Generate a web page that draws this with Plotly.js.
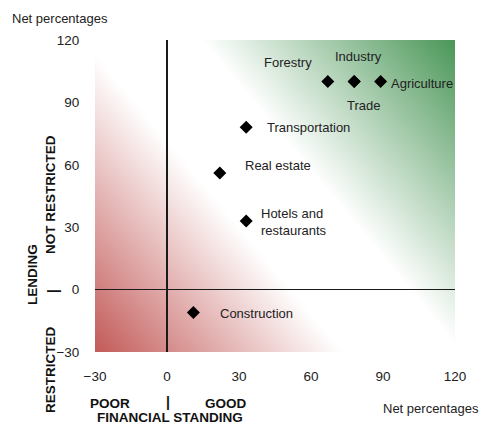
<!DOCTYPE html>
<html>
<head>
<meta charset="utf-8">
<script src="https://cdn.plot.ly/plotly-3.0.1.min.js"></script>
<style>
  html, body { margin: 0; padding: 0; background: #fff; }
  #chart { width: 493px; height: 425px; }
</style>
</head>
<body>
<div id="chart"></div>
<script>
// Sector positions: financial standing (x) vs. lending conditions (y), net percentages
const sectors = ['Forestry', 'Industry', 'Trade', 'Agriculture', 'Transportation',
                 'Real estate', 'Hotels and<br>restaurants', 'Construction'];
const financialStanding = [67, 78, 78, 89, 33, 22, 33, 11];
const lending = [100, 100, 100, 100, 78, 56, 33, -11];

const xTicks = [-30, 0, 30, 60, 90, 120];
const yTicks = [-30, 0, 30, 60, 90, 120];

// Label placement next to each marker (pixels)
const labelStyle = [
  { anchor: 'center', dx: -40, dy: 19 },
  { anchor: 'center', dx: 4, dy: 25 },
  { anchor: 'center', dx: 9, dy: -24 },
  { anchor: 'left', dx: 8, dy: -2 },
  { anchor: 'left', dx: 19, dy: 0 },
  { anchor: 'left', dx: 23, dy: 8 },
  { anchor: 'left', dx: 13, dy: -1 },
  { anchor: 'left', dx: 25, dy: -1 }
];

const FONT = '"Liberation Sans", Arial, sans-serif';
const TXT = '#222';

// Diagonal red-white-green backdrop for the quadrant area
const bgSvg =
  "<svg xmlns='http://www.w3.org/2000/svg' width='360' height='312' viewBox='0 0 360 312' preserveAspectRatio='none'>" +
  "<defs><linearGradient id='g' gradientUnits='userSpaceOnUse' x1='0' y1='312' x2='366' y2='7'>" +
  "<stop offset='0' stop-color='#c25a58'/>" +
  "<stop offset='0.40' stop-color='#ffffff'/>" +
  "<stop offset='0.59' stop-color='#ffffff'/>" +
  "<stop offset='1' stop-color='#4a9657'/>" +
  "</linearGradient></defs><rect width='360' height='312' fill='url(#g)'/></svg>";

const trace = {
  type: 'scatter',
  mode: 'markers',
  x: financialStanding,
  y: lending,
  text: sectors,
  hoverinfo: 'text',
  marker: { symbol: 'diamond', size: 10, color: '#000' },
  cliponaxis: false
};

const annotations = sectors.map((s, i) => ({
  x: financialStanding[i], y: lending[i], xref: 'x', yref: 'y',
  text: s, showarrow: false, align: 'left',
  xanchor: labelStyle[i].anchor, yanchor: 'middle',
  xshift: labelStyle[i].dx, yshift: labelStyle[i].dy,
  font: { family: FONT, size: 13, color: TXT }
}));

const boldFont = { family: FONT, size: 13.5, color: '#111', weight: 'bold' };
const sepFont = { family: FONT, size: 14, color: '#111', weight: 'bold' };
function paperText(text, x, y, extra) {
  return Object.assign({ text, x, y, xref: 'paper', yref: 'paper', showarrow: false,
    xanchor: 'center', yanchor: 'middle', font: boldFont }, extra || {});
}
// pixel helpers relative to the plot area (l=95, t=40, w=360, h=312)
const px = v => (v - 95) / 360;
const py = v => (352 - v) / 312;

annotations.push(
  paperText('Net percentages', px(10), py(18), { xanchor: 'left', font: { family: FONT, size: 13, color: TXT } }),
  paperText('Net percentages', px(481), py(408), { xanchor: 'right', font: { family: FONT, size: 13, color: TXT } }),
  paperText('POOR', px(110), py(403)),
  paperText('|', px(168), py(401.5), { font: sepFont }),
  paperText('GOOD', px(226), py(403)),
  paperText('FINANCIAL STANDING', px(170), py(417.5)),
  paperText('LENDING', px(32), py(275), { textangle: -90 }),
  paperText('NOT RESTRICTED', px(50), py(195), { textangle: -90 }),
  paperText('|', px(53), py(291), { textangle: -90, font: sepFont }),
  paperText('RESTRICTED', px(50), py(370), { textangle: -90 })
);

const axisCommon = {
  showgrid: false, showline: false,
  ticks: 'outside', tickcolor: 'rgba(0,0,0,0)',
  zeroline: true, zerolinecolor: '#1a1a1a', zerolinewidth: 1.5,
  tickfont: { family: FONT, size: 13.5, color: TXT },
  fixedrange: true
};

const layout = {
  width: 493, height: 425,
  margin: { l: 95, r: 38, t: 40, b: 73, pad: 0 },
  paper_bgcolor: '#fff', plot_bgcolor: 'rgba(0,0,0,0)',
  showlegend: false,
  xaxis: Object.assign({}, axisCommon, {
    range: [-30, 120], tickvals: xTicks, ticklen: 12
  }),
  yaxis: Object.assign({}, axisCommon, {
    range: [-30, 120], tickvals: yTicks, ticklen: 12
  }),
  images: [{
    source: 'data:image/svg+xml;charset=utf-8,' + encodeURIComponent(bgSvg),
    xref: 'x', yref: 'y', x: -30, y: 120, sizex: 150, sizey: 150,
    xanchor: 'left', yanchor: 'top', sizing: 'stretch', layer: 'below'
  }],
  annotations: annotations
};

Plotly.newPlot('chart', [trace], layout, { displayModeBar: false, staticPlot: true });
</script>
</body>
</html>
